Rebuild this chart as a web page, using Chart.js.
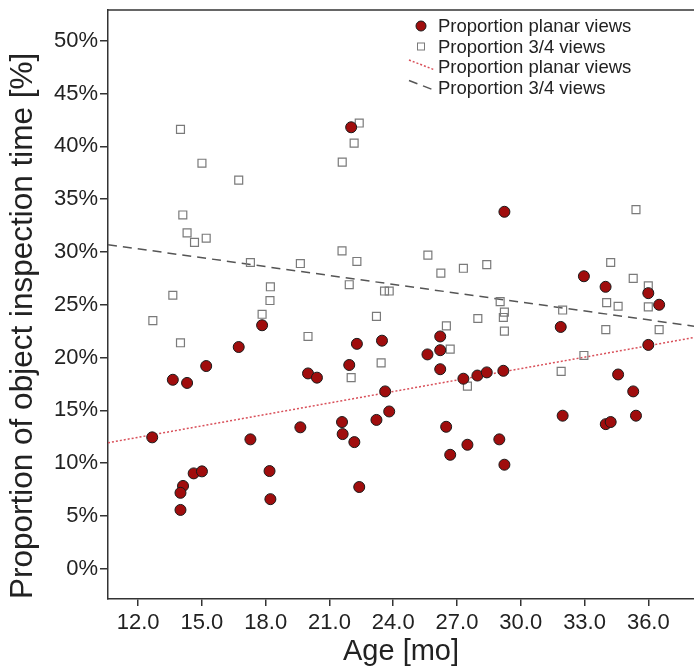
<!DOCTYPE html>
<html>
<head>
<meta charset="utf-8">
<script src="https://cdn.jsdelivr.net/npm/chart.js@4.4.1/dist/chart.umd.min.js"></script>
<style>
  html, body { margin: 0; padding: 0; background: #fff; }
  #wrap { width: 694px; height: 668px; }
</style>
</head>
<body>
<div id="wrap"><canvas id="chart"></canvas></div>
<script>
  // values (age in months, share in %)
  const planarAge = [22.02, 29.23, 32.97, 33.99, 36.0, 36.51, 23.47, 23.62, 23.81, 23.21,
                     25.61, 26.21, 26.21, 26.21, 27.3, 27.96, 28.4, 29.18, 26.49, 26.68,
                     27.49, 28.99, 29.23, 31.88, 31.97, 34.0, 34.23, 34.58, 35.29, 35.42,
                     36.0, 17.83, 16.73, 15.2, 13.63, 14.3, 12.66, 17.28, 19.63, 19.99,
                     20.41, 21.59, 21.62, 22.17, 21.93, 22.29, 22.4, 14.61, 15.0, 14.11,
                     13.99, 13.99, 18.18, 18.22];
  const planarPct = [41.8, 33.8, 27.7, 26.7, 26.1, 25.0, 21.6, 16.8, 14.9, 14.1,
                     20.3, 22.0, 20.7, 18.9, 18.0, 18.3, 18.6, 18.75, 13.45, 10.8,
                     11.75, 12.26, 9.86, 22.9, 14.5, 13.7, 13.9, 18.4, 16.8, 14.5,
                     21.2, 23.06, 21.0, 19.2, 17.9, 17.6, 12.45, 12.26, 13.4, 18.5,
                     18.1, 13.9, 12.76, 12.0, 19.3, 21.3, 7.75, 9.04, 9.23, 7.85,
                     7.2, 5.58, 9.26, 6.6];

  const quarterAge = [13.99, 15.0, 16.73, 14.1, 14.3, 14.65, 15.2, 17.28, 19.63, 21.59,
                      22.29, 21.93, 18.22, 18.2, 13.63, 17.83, 12.69, 23.21, 23.59, 23.81,
                      22.4, 22.16, 21.6, 35.42, 25.63, 26.24, 27.3, 28.4, 34.23, 35.29,
                      36.0, 36.0, 34.04, 34.58, 31.97, 29.03, 29.23, 29.18, 27.98, 29.23,
                      26.5, 26.68, 27.49, 31.9, 32.97, 34.0, 36.51, 23.43, 13.99, 19.99,
                      22.02];
  const quarterPct = [41.6, 38.4, 36.8, 33.5, 31.8, 30.9, 31.3, 29.0, 28.9, 30.1,
                      29.1, 26.9, 26.7, 25.4, 25.9, 24.1, 23.5, 23.9, 26.3, 26.3,
                      42.2, 40.3, 38.5, 34.0, 29.7, 28.0, 28.45, 28.8, 29.0, 27.5,
                      26.8, 24.8, 25.2, 24.86, 24.5, 25.3, 24.3, 23.8, 23.7, 22.5,
                      23.0, 20.8, 17.3, 18.7, 20.2, 22.65, 22.65, 19.5, 21.4, 22.0,
                      18.1];

  // fitted lines, read at the two edges of the plot
  const fitAge = [10.58, 38.15];
  const planarFit = [11.94, 21.9];
  const quarterFit = [30.69, 22.97];

  const xTicks = [12, 15, 18, 21, 24, 27, 30, 33, 36];
  const yTicks = [0, 5, 10, 15, 20, 25, 30, 35, 40, 45, 50];

  const FONT = '"Liberation Sans", Arial, Helvetica, sans-serif';
  const INK = '#222';
  const AXIS = '#333';

  const toPts = (xs, ys) => xs.map((x, i) => ({ x: x, y: ys[i] }));

  // top frame line of the plot box
  const frameTop = {
    id: 'frameTop',
    afterDraw(chart) {
      const { ctx, chartArea: a } = chart;
      ctx.save();
      ctx.strokeStyle = AXIS;
      ctx.lineWidth = 1.5;
      ctx.beginPath();
      ctx.moveTo(a.left, a.top);
      ctx.lineTo(a.right, a.top);
      ctx.stroke();
      ctx.restore();
    }
  };

  // legend in the top right corner, one entry per dataset
  const cornerLegend = {
    id: 'cornerLegend',
    afterDraw(chart) {
      const { ctx, chartArea: a } = chart;
      const xMark = a.right - 273;
      const xText = a.right - 256;
      ctx.save();
      ctx.font = '18.5px ' + FONT;
      ctx.textBaseline = 'middle';
      ctx.fillStyle = INK;
      chart.data.datasets.forEach((ds, i) => {
        const y = a.top + 16 + i * 20.5;
        if (ds.type === 'line') {
          ctx.save();
          ctx.strokeStyle = ds.borderColor;
          ctx.lineWidth = ds.borderWidth;
          ctx.setLineDash(ds.borderDash);
          ctx.beginPath();
          ctx.moveTo(xMark - 12, y - 7);
          ctx.lineTo(xMark + 14, y + 3);
          ctx.stroke();
          ctx.restore();
        } else if (ds.pointStyle === 'rect') {
          ctx.save();
          ctx.strokeStyle = ds.borderColor;
          ctx.lineWidth = 1;
          ctx.strokeRect(xMark - 3.5, y - 3.5, 7, 7);
          ctx.restore();
        } else {
          ctx.save();
          ctx.fillStyle = ds.backgroundColor;
          ctx.strokeStyle = ds.borderColor;
          ctx.lineWidth = 1;
          ctx.beginPath();
          ctx.arc(xMark, y, 5, 0, Math.PI * 2);
          ctx.fill();
          ctx.stroke();
          ctx.restore();
        }
        ctx.fillText(ds.label, xText, y + 1);
      });
      ctx.restore();
    }
  };

  Chart.defaults.font.family = FONT;
  Chart.defaults.color = INK;

  new Chart(document.getElementById('chart'), {
    type: 'scatter',
    data: {
      datasets: [
        {
          label: 'Proportion planar views',
          data: toPts(planarAge, planarPct),
          pointStyle: 'circle',
          pointRadius: 5.5,
          backgroundColor: '#a00d0d',
          borderColor: '#1a1a1a',
          borderWidth: 1
        },
        {
          label: 'Proportion 3/4 views',
          data: toPts(quarterAge, quarterPct),
          pointStyle: 'rect',
          pointRadius: 5.6,
          backgroundColor: 'rgba(255,255,255,0)',
          borderColor: '#7a7a7a',
          borderWidth: 1.2
        },
        {
          type: 'line',
          label: 'Proportion planar views',
          data: toPts(fitAge, planarFit),
          borderColor: '#d9505a',
          borderWidth: 1.5,
          borderDash: [2, 2],
          pointRadius: 0,
          fill: false
        },
        {
          type: 'line',
          label: 'Proportion 3/4 views',
          data: toPts(fitAge, quarterFit),
          borderColor: '#555',
          borderWidth: 1.5,
          borderDash: [9, 6],
          pointRadius: 0,
          fill: false
        }
      ]
    },
    options: {
      responsive: true,
      maintainAspectRatio: false,
      animation: false,
      layout: { autoPadding: false, padding: { top: 10, right: 0, bottom: 0, left: 0 } },
      plugins: {
        legend: { display: false },
        tooltip: { enabled: false }
      },
      scales: {
        x: {
          type: 'linear',
          min: 10.58,
          max: 38.15,
          afterFit: s => { s.height = 69; s.paddingLeft = 0; s.paddingRight = 0; },
          afterBuildTicks: s => { s.ticks = xTicks.map(v => ({ value: v })); },
          ticks: {
            autoSkip: false,
            maxRotation: 0,
            padding: 4,
            color: INK,
            font: { size: 22 },
            callback: v => Number(v).toFixed(1)
          },
          grid: { drawOnChartArea: false, drawTicks: true, tickLength: 7, color: AXIS, tickColor: AXIS, lineWidth: 1.5 },
          border: { display: true, color: AXIS, width: 1.5 },
          title: { display: true, text: 'Age [mo]', color: INK, font: { size: 29, lineHeight: 1.1 }, padding: 0 }
        },
        y: {
          type: 'linear',
          min: -2.85,
          max: 52.9,
          afterFit: s => { s.width = 108; s.paddingTop = 0; s.paddingBottom = 0; },
          afterBuildTicks: s => { s.ticks = yTicks.map(v => ({ value: v })); },
          ticks: {
            autoSkip: false,
            padding: 2,
            color: INK,
            font: { size: 22 },
            callback: v => v + '%'
          },
          grid: { drawOnChartArea: false, drawTicks: true, tickLength: 8, color: AXIS, tickColor: AXIS, lineWidth: 1.5 },
          border: { display: true, color: AXIS, width: 1.5 },
          title: {
            display: true,
            text: 'Proportion of object inspection time [%]',
            align: 'start',
            color: INK,
            font: { size: 31.5 },
            padding: { top: 4, bottom: 0 }
          }
        }
      }
    },
    plugins: [frameTop, cornerLegend]
  });
</script>
</body>
</html>
